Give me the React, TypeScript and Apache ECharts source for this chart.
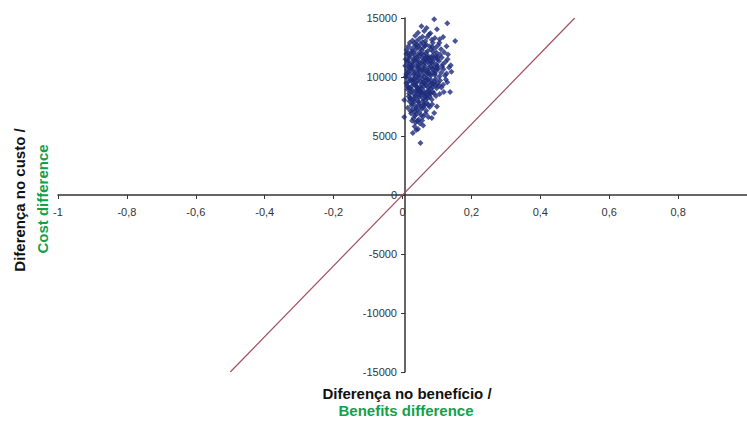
import React, { useEffect, useRef } from "react";
import * as echarts from "echarts";

const xMin = -1;
const xMax = 1;
const xStep = 0.2;
const yMin = -15000;
const yMax = 15000;
const yStep = 5000;

const thresholdLine: number[][] = [
  [-0.5, -15000],
  [0.5, 15000],
];

const simulations: number[][] = [
  [0.092, 14900], [0.13, 14560], [0.055, 14300], [0.07, 14150], [0.1, 14050],
  [0.063, 13900], [0.045, 13750], [0.081, 13700], [0.153, 13050], [0.037, 13500],
  [0.058, 13420], [0.072, 13380], [0.094, 13300], [0.049, 13250], [0.085, 13150],
  [0.029, 13100], [0.066, 13050], [0.108, 13200], [0.041, 13020], [0.077, 13600],
  [0.118, 13400],
  [0.021, 12900], [0.034, 12850], [0.052, 12800], [0.069, 12750], [0.088, 12900],
  [0.103, 12700], [0.017, 12600], [0.044, 12550], [0.061, 12500], [0.079, 12580],
  [0.095, 12450], [0.112, 12350], [0.027, 12400], [0.038, 12300], [0.056, 12250],
  [0.073, 12200], [0.089, 12150], [0.121, 12100], [0.015, 12050], [0.032, 12080],
  [0.047, 12020], [0.065, 12650], [0.083, 12320], [0.099, 12050], [0.128, 12600],
  [0.012, 12300], [0.058, 12950], [0.042, 12720], [0.107, 12900],
  [0.011, 11950], [0.024, 11900], [0.036, 11850], [0.049, 11800], [0.062, 11880],
  [0.075, 11750], [0.087, 11820], [0.101, 11700], [0.114, 11650], [0.132, 11900],
  [0.019, 11600], [0.031, 11550], [0.043, 11500], [0.057, 11620], [0.068, 11450],
  [0.081, 11400], [0.093, 11550], [0.106, 11350], [0.125, 11300], [0.014, 11250],
  [0.027, 11200], [0.039, 11300], [0.052, 11150], [0.064, 11220], [0.077, 11100],
  [0.089, 11250], [0.098, 11050], [0.117, 11080], [0.14, 11000], [0.022, 11050],
  [0.046, 11020], [0.071, 11700], [0.034, 11420], [0.085, 11600], [0.059, 11350],
  [0.109, 11900], [0.009, 11500], [0.131, 11500],
  [0.008, 10950], [0.018, 10900], [0.029, 10850], [0.041, 10920], [0.053, 10800],
  [0.066, 10880], [0.078, 10750], [0.091, 10820], [0.104, 10700], [0.119, 10650],
  [0.135, 10800], [0.013, 10600], [0.025, 10550], [0.037, 10500], [0.048, 10620],
  [0.061, 10450], [0.073, 10580], [0.086, 10400], [0.097, 10500], [0.112, 10350],
  [0.128, 10300], [0.02, 10250], [0.032, 10200], [0.044, 10300], [0.056, 10150],
  [0.069, 10220], [0.082, 10100], [0.094, 10180], [0.107, 10050], [0.123, 10120],
  [0.01, 10050], [0.039, 10020], [0.063, 10700], [0.075, 10350], [0.05, 10450],
  [0.088, 10650], [0.016, 10400], [0.101, 10950], [0.027, 10700], [0.115, 10900],
  [0.142, 10450],
  [0.012, 9950], [0.023, 9900], [0.035, 9850], [0.047, 9920], [0.058, 9800],
  [0.071, 9880], [0.083, 9750], [0.096, 9820], [0.109, 9700], [0.126, 9780],
  [0.017, 9600], [0.029, 9550], [0.04, 9500], [0.052, 9620], [0.065, 9450],
  [0.077, 9580], [0.09, 9400], [0.103, 9500], [0.118, 9350], [0.014, 9250],
  [0.026, 9200], [0.038, 9300], [0.05, 9150], [0.062, 9220], [0.074, 9100],
  [0.087, 9180], [0.099, 9050], [0.113, 9120], [0.021, 9050], [0.044, 9020],
  [0.068, 9700], [0.08, 9320], [0.056, 9400], [0.093, 9620], [0.031, 9750],
  [0.106, 9250], [0.011, 9500], [0.13, 9550],
  [0.015, 8950], [0.028, 8900], [0.039, 8850], [0.051, 8920], [0.063, 8800],
  [0.076, 8880], [0.088, 8750], [0.12, 8730], [0.138, 8730], [0.019, 8600],
  [0.033, 8550], [0.045, 8500], [0.057, 8620], [0.07, 8450], [0.082, 8580],
  [0.097, 8400], [0.024, 8250], [0.036, 8200], [0.048, 8300], [0.06, 8150],
  [0.073, 8220], [0.085, 8100], [0.005, 8050], [0.03, 8050], [0.054, 8700],
  [0.066, 8350], [0.042, 8750], [0.078, 8650], [0.108, 8550], [0.018, 8350],
  [0.02, 7950], [0.033, 7900], [0.046, 7850], [0.058, 7920], [0.071, 7800],
  [0.086, 7700], [0.026, 7600], [0.038, 7550], [0.052, 7500], [0.065, 7620],
  [0.079, 7450], [0.03, 7250], [0.043, 7200], [0.056, 7300], [0.069, 7150],
  [0.1, 7500], [0.035, 7050], [0.062, 7700], [0.015, 7400],
  [0.005, 6600], [0.025, 6900], [0.04, 6850], [0.054, 6750], [0.092, 6950],
  [0.032, 6500], [0.047, 6400], [0.085, 6525], [0.06, 6650], [0.038, 6150],
  [0.051, 6050], [0.028, 6300],
  [0.035, 5800], [0.045, 5600], [0.03, 5250], [0.04, 5500], [0.052, 4400],
  [0.06, 5900],
  [0.026, 12150], [0.051, 12420], [0.068, 12030], [0.086, 12560], [0.036, 12620],
  [0.019, 11780], [0.041, 11680], [0.054, 11960], [0.078, 11560], [0.096, 11780],
  [0.016, 11380], [0.03, 11050], [0.048, 11280], [0.066, 11620], [0.084, 11180],
  [0.102, 11480], [0.061, 11060], [0.072, 11330], [0.045, 10780], [0.058, 10600],
  [0.071, 10420], [0.083, 10880], [0.035, 10330], [0.021, 10780], [0.094, 10320],
  [0.011, 10250], [0.047, 10100], [0.063, 10010], [0.079, 10220], [0.099, 10720],
  [0.024, 9720], [0.043, 9680], [0.061, 9560], [0.074, 9780], [0.086, 9470],
  [0.033, 9380], [0.017, 9100], [0.055, 9050], [0.069, 9300], [0.083, 9020],
  [0.097, 9280], [0.041, 9150], [0.025, 8720], [0.048, 8780], [0.064, 8560],
  [0.072, 8720], [0.091, 8620], [0.037, 8380], [0.053, 8420], [0.079, 8320],
  [0.022, 8150], [0.044, 8030], [0.067, 8080], [0.028, 7750], [0.049, 7680],
  [0.075, 7620], [0.04, 7380], [0.061, 7420], [0.023, 7120], [0.049, 7020],
  [0.067, 6880], [0.036, 6720], [0.075, 6620], [0.043, 6280], [0.057, 6320],
];

const yTitleLines = ["Diferença no custo /", "Cost difference"];
const xTitleLines = ["Diferença no benefício /", "Benefits difference"];

const fmtX = (v: number) => (Math.round(v * 10) / 10).toString().replace(".", ",");
const fmtY = (v: number) => String(Math.round(v));

const GRID_LEFT = 58;
const GRID_TOP = 18;
const GRID_W = 694;
const GRID_H = 354;

export default function App() {
  const ref = useRef<HTMLDivElement>(null);
  useEffect(() => {
    document.body.style.margin = "0";
    const chart = echarts.init(ref.current!, undefined, { renderer: "svg" });
    const font = "'Liberation Sans', Arial, sans-serif";
    const xZeroOffset = -(GRID_H * (0 - yMin)) / (yMax - yMin);
    const yZeroOffset = -(GRID_W * (0 - xMin)) / (xMax - xMin);
    chart.setOption({
      animation: false,
      backgroundColor: "#ffffff",
      grid: { left: GRID_LEFT, top: GRID_TOP, width: GRID_W, height: GRID_H, containLabel: false },
      xAxis: {
        type: "value",
        position: "bottom",
        offset: xZeroOffset,
        min: xMin,
        max: xMax,
        interval: xStep,
        splitLine: { show: false },
        axisLine: { onZero: false, lineStyle: { color: "#333", width: 1.5 } },
        axisTick: { show: true, inside: false, length: 4, lineStyle: { color: "#333" } },
        axisLabel: {
          formatter: fmtX,
          showMaxLabel: false,
          color: "#333",
          fontSize: 11,
          fontFamily: font,
          margin: 11,
        },
      },
      yAxis: {
        type: "value",
        position: "left",
        offset: yZeroOffset,
        min: yMin,
        max: yMax,
        interval: yStep,
        splitLine: { show: false },
        axisLine: { onZero: false, lineStyle: { color: "#333", width: 1.5 } },
        axisTick: { show: true, inside: false, length: 4, lineStyle: { color: "#333" } },
        axisLabel: { formatter: fmtY, color: "#333", fontSize: 11, fontFamily: font, margin: 8 },
      },
      series: [
        {
          type: "line",
          data: thresholdLine,
          showSymbol: false,
          symbol: "none",
          lineStyle: { color: "#a0505c", width: 1.2 },
          z: 2,
        },
        {
          type: "scatter",
          data: simulations,
          symbol: "diamond",
          symbolSize: 6,
          itemStyle: { color: "#1b2a7a" },
          z: 3,
        },
      ],
      graphic: [
        {
          type: "text",
          x: 19,
          y: 200,
          rotation: Math.PI / 2,
          style: {
            text: yTitleLines[0],
            fill: "#111",
            font: `bold 15px ${font}`,
            textAlign: "center",
            textVerticalAlign: "middle",
          },
        },
        {
          type: "text",
          x: 42,
          y: 199,
          rotation: Math.PI / 2,
          style: {
            text: yTitleLines[1],
            fill: "#12a14a",
            font: `bold 15px ${font}`,
            textAlign: "center",
            textVerticalAlign: "middle",
          },
        },
        {
          type: "text",
          x: 407,
          y: 393,
          style: {
            text: xTitleLines[0],
            fill: "#111",
            font: `bold 15px ${font}`,
            textAlign: "center",
            textVerticalAlign: "middle",
          },
        },
        {
          type: "text",
          x: 406,
          y: 410,
          style: {
            text: xTitleLines[1],
            fill: "#12a14a",
            font: `bold 15px ${font}`,
            textAlign: "center",
            textVerticalAlign: "middle",
          },
        },
      ],
    });
    return () => chart.dispose();
  }, []);
  return (
    <div
      ref={ref}
      style={{ position: "absolute", left: 0, top: 0, width: 747, height: 421 }}
    />
  );
}
